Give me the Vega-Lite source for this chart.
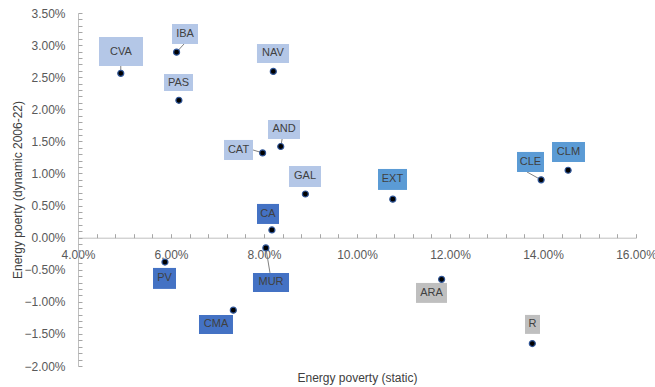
{
  "$schema": "https://vega.github.io/schema/vega-lite/v6.json",
  "width": 558,
  "height": 353,
  "autosize": {"type": "none"},
  "padding": {"left": 78, "top": 13, "right": 19, "bottom": 21},
  "background": "white",
  "config": {
    "view": {"stroke": null},
    "font": "Liberation Sans",
    "axis": {"grid": false, "labelFont": "Liberation Sans", "titleFont": "Liberation Sans", "labelColor": "#595959", "labelFontSize": 12, "titleFontSize": 12, "titleFontWeight": "normal", "titleColor": "#404040", "domainColor": "#BFBFBF", "tickColor": "#A6A6A6", "labelFlush": false}
  },
  "data": {"values": [
    {"r": "CVA", "x": 0.0492, "y": 0.0256, "g": "light", "bx1": 0.04452, "bx2": 0.05398, "by1": 0.02674, "by2": 0.03126, "lx": 0.04925, "ly": 0.0290, "ax": 0.0492, "ay": 0.02674},
    {"r": "IBA", "x": 0.0612, "y": 0.0289, "g": "light", "bx1": 0.06022, "bx2": 0.06581, "by1": 0.03017, "by2": 0.03329, "lx": 0.06301, "ly": 0.03173, "ax": 0.0628, "ay": 0.03017},
    {"r": "PAS", "x": 0.0617, "y": 0.0214, "g": "light", "bx1": 0.05849, "bx2": 0.06473, "by1": 0.02285, "by2": 0.02550, "lx": 0.06161, "ly": 0.02417},
    {"r": "NAV", "x": 0.0820, "y": 0.0259, "g": "light", "bx1": 0.07849, "bx2": 0.08538, "by1": 0.02721, "by2": 0.03017, "lx": 0.08194, "ly": 0.02869},
    {"r": "AND", "x": 0.0836, "y": 0.0142, "g": "light", "bx1": 0.08086, "bx2": 0.08774, "by1": 0.01537, "by2": 0.01833, "lx": 0.0843, "ly": 0.01685, "ax": 0.0839, "ay": 0.01537},
    {"r": "CAT", "x": 0.0797, "y": 0.0132, "g": "light", "bx1": 0.0714, "bx2": 0.07763, "by1": 0.0121, "by2": 0.01522, "lx": 0.07452, "ly": 0.01366, "ax": 0.07763, "ay": 0.01366},
    {"r": "GAL", "x": 0.0889, "y": 0.0068, "g": "light", "bx1": 0.08538, "bx2": 0.09226, "by1": 0.0079, "by2": 0.01117, "lx": 0.08882, "ly": 0.00953},
    {"r": "EXT", "x": 0.1077, "y": 0.0060, "g": "medium", "bx1": 0.10452, "bx2": 0.11075, "by1": 0.00743, "by2": 0.0107, "lx": 0.10763, "ly": 0.00907},
    {"r": "CLE", "x": 0.1396, "y": 0.0090, "g": "medium", "bx1": 0.13441, "bx2": 0.14022, "by1": 0.01023, "by2": 0.01335, "lx": 0.13731, "ly": 0.01179, "ax": 0.13656, "ay": 0.01023},
    {"r": "CLM", "x": 0.1454, "y": 0.0105, "g": "medium", "bx1": 0.14194, "bx2": 0.14903, "by1": 0.01179, "by2": 0.01491, "lx": 0.14548, "ly": 0.01335},
    {"r": "CA", "x": 0.0817, "y": 0.0012, "g": "dark", "bx1": 0.07849, "bx2": 0.08323, "by1": 0.00213, "by2": 0.00525, "lx": 0.08086, "ly": 0.00369},
    {"r": "MUR", "x": 0.0804, "y": -0.0016, "g": "dark", "bx1": 0.07763, "bx2": 0.08538, "by1": -0.00846, "by2": -0.0055, "lx": 0.08151, "ly": -0.00698, "ax": 0.08129, "ay": -0.0055},
    {"r": "PV", "x": 0.0587, "y": -0.0038, "g": "dark", "bx1": 0.05613, "bx2": 0.06108, "by1": -0.00799, "by2": -0.00472, "lx": 0.0586, "ly": -0.00636},
    {"r": "CMA", "x": 0.0734, "y": -0.0113, "g": "dark", "bx1": 0.06602, "bx2": 0.07333, "by1": -0.015, "by2": -0.01204, "lx": 0.06968, "ly": -0.01352},
    {"r": "ARA", "x": 0.1182, "y": -0.0065, "g": "gray", "bx1": 0.11269, "bx2": 0.11935, "by1": -0.01017, "by2": -0.00706, "lx": 0.11602, "ly": -0.00861},
    {"r": "R", "x": 0.1377, "y": -0.0165, "g": "gray", "bx1": 0.13613, "bx2": 0.13935, "by1": -0.015, "by2": -0.01204, "lx": 0.13774, "ly": -0.01352}
  ]},
  "layer": [
    {
      "transform": [{"filter": "isValid(datum.ax)"}],
      "mark": {"type": "rule", "color": "#808080", "strokeWidth": 1},
      "encoding": {
        "x": {"field": "x", "type": "quantitative", "scale": {"domain": [0.04, 0.16], "nice": false, "zero": false}, "axis": null},
        "y": {"field": "y", "type": "quantitative", "scale": {"domain": [-0.02, 0.035], "nice": false, "zero": false}, "axis": null},
        "x2": {"field": "ax"},
        "y2": {"field": "ay"}
      }
    },
    {
      "mark": {"type": "rect"},
      "encoding": {
        "x": {"field": "bx1", "type": "quantitative", "axis": {"title": "Energy poverty (static)", "values": [0.04, 0.06, 0.08, 0.10, 0.12, 0.14, 0.16], "format": ".2%", "orient": "bottom", "offset": -128.3, "ticks": false, "tickSize": 0, "labelPadding": 12, "titleY": 140, "titleX": 279, "titleBaseline": "middle", "titleAlign": "center"}},
        "x2": {"field": "bx2"},
        "y": {"field": "by1", "type": "quantitative", "axis": {"title": "Energy poerty (dynamic 2006-22)", "values": [-0.02, -0.015, -0.01, -0.005, 0, 0.005, 0.01, 0.015, 0.02, 0.025, 0.03, 0.035], "format": ".2%", "orient": "left", "ticks": false, "tickSize": 0, "labelPadding": 13, "domain": true, "domainColor": "#BFBFBF", "titleX": -61, "titleY": 176.5, "titleAngle": -90, "titleBaseline": "middle", "titleAlign": "center"}},
        "y2": {"field": "by2"},
        "color": {"field": "g", "type": "nominal", "scale": {"domain": ["light", "medium", "dark", "gray"], "range": ["#B4C7E7", "#5B9BD5", "#4472C4", "#BFBFBF"]}, "legend": null}
      }
    },
    {
      "mark": {"type": "text", "fontSize": 11, "color": "#404040", "align": "center", "baseline": "middle", "font": "Liberation Sans"},
      "encoding": {
        "x": {"field": "lx", "type": "quantitative", "axis": null},
        "y": {"field": "ly", "type": "quantitative", "axis": null},
        "text": {"field": "r"}
      }
    },
    {
      "mark": {"type": "point", "shape": "circle", "filled": true, "fill": "#000000", "stroke": "#2F5597", "strokeWidth": 1.2, "size": 36, "opacity": 1},
      "encoding": {
        "x": {"field": "x", "type": "quantitative", "axis": {"title": null, "labels": false, "domain": false, "orient": "top", "offset": -224.7, "ticks": true, "tickSize": 4, "tickColor": "#A6A6A6", "values": [0.04, 0.044, 0.048, 0.052, 0.056, 0.06, 0.064, 0.068, 0.072, 0.076, 0.08, 0.084, 0.088, 0.092, 0.096, 0.1, 0.104, 0.108, 0.112, 0.116, 0.12, 0.124, 0.128, 0.132, 0.136, 0.14, 0.144, 0.148, 0.152, 0.156, 0.16]}},
        "y": {"field": "y", "type": "quantitative", "axis": {"title": null, "labels": false, "domain": false, "orient": "right", "offset": -558, "ticks": true, "tickSize": 4, "tickColor": "#A6A6A6", "values": [-0.02, -0.019, -0.018, -0.017, -0.016, -0.015, -0.014, -0.013, -0.012, -0.011, -0.01, -0.009, -0.008, -0.007, -0.006, -0.005, -0.004, -0.003, -0.002, -0.001, 0, 0.001, 0.002, 0.003, 0.004, 0.005, 0.006, 0.007, 0.008, 0.009, 0.01, 0.011, 0.012, 0.013, 0.014, 0.015, 0.016, 0.017, 0.018, 0.019, 0.02, 0.021, 0.022, 0.023, 0.024, 0.025, 0.026, 0.027, 0.028, 0.029, 0.03, 0.031, 0.032, 0.033, 0.034, 0.035]}}
      }
    }
  ],
  "resolve": {"scale": {"x": "shared", "y": "shared"}, "axis": {"x": "independent", "y": "independent"}}
}
